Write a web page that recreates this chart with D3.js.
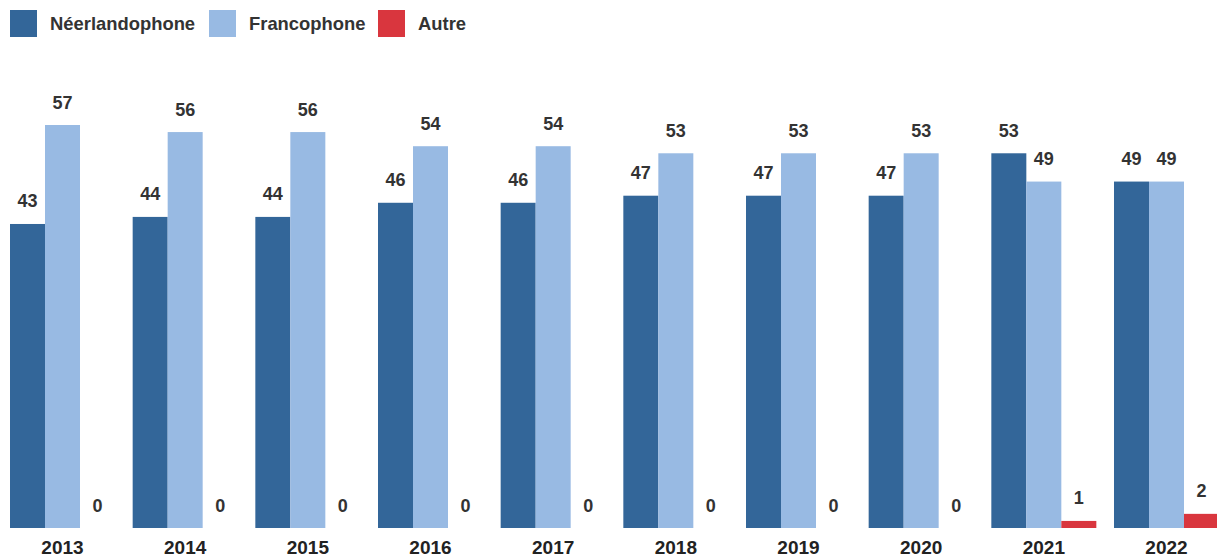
<!DOCTYPE html>
<html lang="fr">
<head>
    <meta charset="UTF-8">
    <script src="https://d3js.org/d3.v7.min.js"></script>
    <title>Néerlandophone / Francophone / Autre</title>
    <style>
        html, body {
            margin: 0;
            padding: 0;
            background: #fff;
            font-family: "Liberation Sans", Arial, sans-serif;
        }
    </style>
</head>
<body>
    <div id="chart"></div>
    <script>
        const years = ['2013', '2014', '2015', '2016', '2017', '2018', '2019', '2020', '2021', '2022'];
        const series = ['Néerlandophone', 'Francophone', 'Autre'];
        const neerlandophone = [43, 44, 44, 46, 46, 47, 47, 47, 53, 49];
        const francophone = [57, 56, 56, 54, 54, 53, 53, 53, 49, 49];
        const autre = [0, 0, 0, 0, 0, 0, 0, 0, 1, 2];
        const colors = ['#336699', '#98bae3', '#d9363e'];

        const width = 1217, height = 560;
        const baseline = 528;

        const svg = d3.select('#chart').append('svg')
            .attr('width', width).attr('height', height);

        // data rows per year
        const rows = years.map((y, i) => ({
            year: y,
            values: [neerlandophone[i], francophone[i], autre[i]]
        }));

        const x0 = d3.scaleBand().domain(years).range([10, 1219]).paddingInner(0.144).paddingOuter(0);
        const x1 = d3.scaleBand().domain(series).range([0, x0.bandwidth()]);
        const y = d3.scaleLinear().domain([0, 57]).range([baseline, 125]);
        const color = d3.scaleOrdinal().domain(series).range(colors);

        const groups = svg.append('g').selectAll('g')
            .data(rows)
            .join('g')
            .attr('transform', d => `translate(${x0(d.year)},0)`);

        const cells = d => d.values.map((v, j) => ({ key: series[j], value: v }));

        groups.selectAll('rect')
            .data(cells)
            .join('rect')
            .attr('x', d => x1(d.key))
            .attr('y', d => y(d.value))
            .attr('width', x1.bandwidth())
            .attr('height', d => baseline - y(d.value))
            .attr('fill', d => color(d.key));

        groups.selectAll('text.val')
            .data(cells)
            .join('text')
            .attr('class', 'val')
            .attr('x', d => x1(d.key) + x1.bandwidth() / 2)
            .attr('y', d => y(d.value) - 16.5)
            .attr('text-anchor', 'middle')
            .attr('font-size', 18)
            .attr('font-weight', 'bold')
            .attr('fill', '#333')
            .text(d => d.value);

        // x axis labels
        const xAxis = d3.axisBottom(x0).tickSize(0).tickPadding(13);
        const ax = svg.append('g').attr('transform', `translate(0,${baseline})`).call(xAxis);
        ax.select('.domain').remove();
        ax.selectAll('text')
            .attr('font-family', '"Liberation Sans", Arial, sans-serif')
            .attr('font-size', 19)
            .attr('font-weight', 'bold')
            .attr('fill', '#222');

        // legend
        const legendX = [10, 209, 378];
        const legend = svg.append('g').selectAll('g')
            .data(series)
            .join('g')
            .attr('transform', (d, i) => `translate(${legendX[i]},10)`);
        legend.append('rect')
            .attr('width', 27).attr('height', 27)
            .attr('fill', d => color(d));
        legend.append('text')
            .attr('x', 40).attr('y', 20)
            .attr('font-size', 18.4)
            .attr('font-weight', 'bold')
            .attr('fill', '#333')
            .text(d => d);
    </script>
</body>
</html>
